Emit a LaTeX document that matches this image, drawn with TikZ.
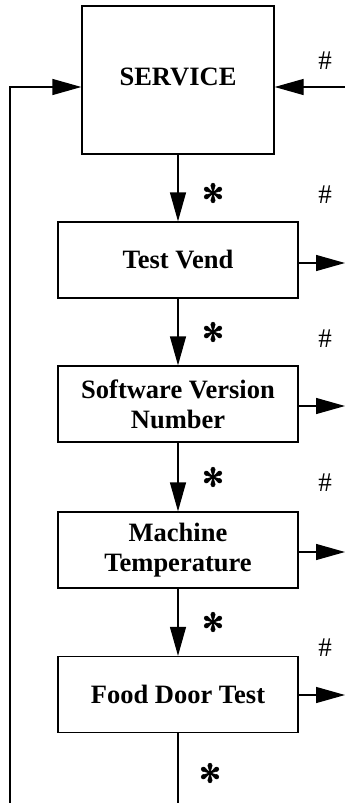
\documentclass[tikz,border=0pt]{standalone}
\usepackage{fontspec}
\setmainfont{Liberation Serif}
\newfontfamily\symfont[FakeBold=2]{DejaVu Sans}
\usetikzlibrary{arrows.meta,calc}
\begin{document}
\begin{tikzpicture}[x=1pt,y=-1pt,
  line width=1.3pt,
  boxnode/.style={draw,line width=1.3pt,minimum width=240pt,minimum height=76pt,align=center,inner sep=0pt,
    font=\fontsize{26.5pt}{30pt}\selectfont\bfseries},
  arr/.style={-{Triangle[length=29pt,width=16pt]}},
  star/.style={font=\fontsize{26pt}{26pt}\selectfont\symfont,inner sep=0pt},
  hash/.style={font=\fontsize{27pt}{27pt}\selectfont,inner sep=0pt}]
\useasboundingbox (0,0) rectangle (345,803);
\node[boxnode,minimum width=192pt,minimum height=148pt] (service) at (178,80) {\raisebox{7pt}{SERVICE}};
\node[boxnode] (tv) at (178,260) {Test Vend};
\node[boxnode] (svn) at (178,404) {Software Version\\Number};
\node[boxnode] (mt) at (178,550) {Machine\\Temperature};
\node[boxnode] (fdt) at (178,694.5) {Food Door Test};
% coordinates
\coordinate (sinL) at ($(service.west)+(0,7)$);
\coordinate (sinR) at ($(service.east)+(0,7)$);
\coordinate (loopT) at (10,87);
\coordinate (loopB) at (10,803);
\coordinate (inR) at (345,87);
\coordinate (bot) at (178,803);
\coordinate (o1) at (345,263);
\coordinate (o2) at (345,406);
\coordinate (o3) at (345,552);
\coordinate (o4) at (345,695);
% loop
\draw[arr] (loopB) -- (loopT) -- (sinL);
\draw[arr] (inR) -- (sinR);
% vertical arrows
\draw[arr] (service.south) -- (tv.north);
\draw[arr] (tv.south) -- (svn.north);
\draw[arr] (svn.south) -- (mt.north);
\draw[arr] (mt.south) -- (fdt.north);
\draw (fdt.south) -- (bot);
% right arrows
\draw[arr] (tv.east |- o1) -- (o1);
\draw[arr] (svn.east |- o2) -- (o2);
\draw[arr] (mt.east |- o3) -- (o3);
\draw[arr] (fdt.east |- o4) -- (o4);
% labels
\node[star] (s1) at (213,193) {✻};
\node[star] (s2) at (213,332) {✻};
\node[star] (s3) at (213,477) {✻};
\node[star] (s4) at (213,622) {✻};
\node[star] (s5) at (210,773) {✻};
\node[hash] (h0) at (325,61) {\#};
\node[hash] (h1) at (325,195) {\#};
\node[hash] (h2) at (325,339) {\#};
\node[hash] (h3) at (325,483) {\#};
\node[hash] (h4) at (325,648) {\#};
\end{tikzpicture}
\end{document}
